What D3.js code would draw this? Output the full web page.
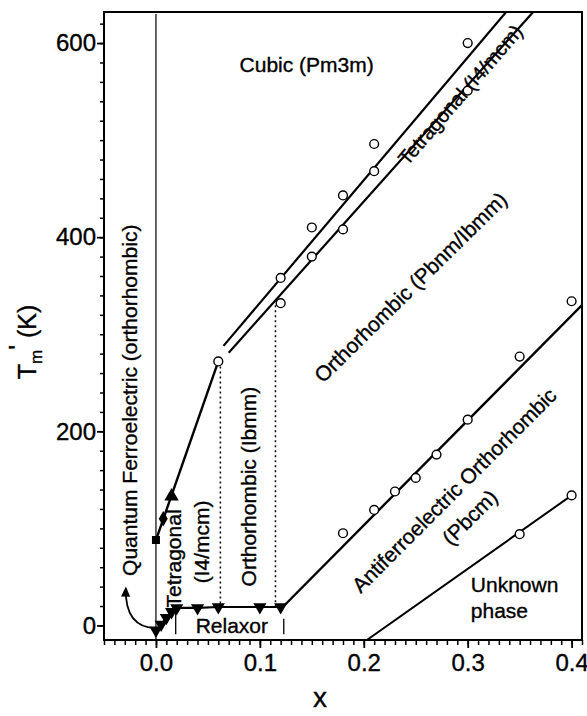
<!DOCTYPE html>
<html>
<head>
<meta charset="utf-8">
<script src="https://cdn.jsdelivr.net/npm/d3@7"></script>
<style>
  body { margin: 0; background: #fff; }
  svg { display: block; }
  text { font-family: "Liberation Sans", Arial, Helvetica, sans-serif; fill: #000; stroke: #000; stroke-width: 0.35px; }
</style>
</head>
<body>
<svg id="chart" width="587" height="716"></svg>
<script>
// ---- measured transition temperatures T'm (K) versus composition x ----
// cubic -> tetragonal (I4/mcm) transition
const cubicX = [0.12, 0.15, 0.18, 0.21, 0.30];
const cubicT = [358, 410, 443, 496, 600];
// tetragonal -> orthorhombic (Pbnm/Ibmm) transition
const tetraX = [0.06, 0.12, 0.15, 0.18, 0.21, 0.30];
const tetraT = [272, 332, 380, 408, 468, 551];
// orthorhombic -> antiferroelectric (Pbcm) transition
const afeX = [0.18, 0.21, 0.23, 0.25, 0.27, 0.30, 0.35, 0.40];
const afeT = [95, 119, 138, 152, 176, 212, 277, 334];
// antiferroelectric -> unknown phase
const unkX = [0.35, 0.40];
const unkT = [94, 134];
// low-x structural transition (square, diamond, up-triangle)
const qfX = [0.0, 0.007, 0.015];
const qfT = [88, 110, 133];
// relaxor / dielectric maxima (down-triangles)
const relX = [0.0, 0.005, 0.01, 0.015, 0.02, 0.04, 0.06, 0.10, 0.12];
const relT = [-5, 1, 8, 14, 18, 18, 19, 19, 19];

// fitted phase boundaries, as end points
const cubicFitX = [0.065, 0.337], cubicFitT = [288, 632];
const tetraFitX = [0.070, 0.363], tetraFitT = [281, 632];
const qfFitX = [0.0, 0.06], qfFitT = [88, 272];
const afeFitX = [0.123, 0.41], afeFitT = [20, 330];
const unkFitX = [0.203, 0.40], unkFitT = [-15, 134];
// dotted phase limits inside the low-temperature region
const dotX = [0.062, 0.115];
const dotTop = [272, 330];
// short bars bounding the relaxor region
const barX = [0.019, 0.123];
const barTop = [14, 7];

// axes
const xTicks = [0.0, 0.1, 0.2, 0.3, 0.4];
const xTickLabels = ["0.0", "0.1", "0.2", "0.3", "0.4"];
const yTicks = [0, 200, 400, 600];
const yTickLabels = ["0", "200", "400", "600"];

const svg = d3.select("#chart");
const L = 104, R = 582, T = 12, B = 640;
const x = d3.scaleLinear().domain([-0.05, 0.41]).range([L, R]);
const y = d3.scaleLinear().domain([-15, 632]).range([B, T]);

const defs = svg.append("defs");
defs.append("clipPath").attr("id", "plotclip")
  .append("rect").attr("x", L).attr("y", T).attr("width", R - L).attr("height", B - T);
defs.append("marker")
  .attr("id", "arrowhead").attr("viewBox", "0 0 10 10").attr("refX", 8).attr("refY", 5)
  .attr("markerWidth", 6).attr("markerHeight", 7).attr("orient", "auto")
  .attr("markerUnits", "strokeWidth")
  .append("path").attr("d", "M0,0.5 L10,5 L0,9.5 Z").attr("fill", "#000");

const plot = svg.append("g").attr("clip-path", "url(#plotclip)");

// x = 0 reference line
plot.append("line")
  .attr("x1", x(0)).attr("x2", x(0)).attr("y1", T + 2).attr("y2", B)
  .attr("stroke", "#000").attr("stroke-width", 1.2);

// dotted boundaries
dotX.forEach((d, i) => {
  plot.append("line")
    .attr("x1", x(d)).attr("x2", x(d)).attr("y1", y(dotTop[i])).attr("y2", y(20))
    .attr("stroke", "#000").attr("stroke-width", 1.5).attr("stroke-dasharray", "2,3");
});

// relaxor bracket bars
barX.forEach((d, i) => {
  plot.append("line")
    .attr("x1", x(d)).attr("x2", x(d)).attr("y1", y(barTop[i])).attr("y2", y(-9))
    .attr("stroke", "#000").attr("stroke-width", 1.3);
});

const line = d3.line().x(d => x(d[0])).y(d => y(d[1]));
function drawFit(xs, ts, w) {
  plot.append("path").datum(xs.map((v, i) => [v, ts[i]]))
    .attr("d", line).attr("fill", "none").attr("stroke", "#000").attr("stroke-width", w);
}
drawFit(cubicFitX, cubicFitT, 2.2);
drawFit(tetraFitX, tetraFitT, 2.2);
drawFit(qfFitX, qfFitT, 2.4);
drawFit(afeFitX, afeFitT, 2.4);
drawFit(unkFitX, unkFitT, 2);
drawFit(relX.slice(4), relT.slice(4), 2.2);
drawFit(relX.slice(0, 5), relT.slice(0, 5), 2.2);

// curved arrow from the origin towards the quantum ferroelectric region
plot.append("path")
  .attr("d", `M${x(0)},${y(-3)} Q${x(-0.03)},${y(-2)} ${x(-0.029)},${y(38)}`)
  .attr("fill", "none").attr("stroke", "#000").attr("stroke-width", 1.7)
  .attr("marker-end", "url(#arrowhead)");

// open circles
function circles(xs, ts) {
  plot.selectAll(null).data(xs.map((v, i) => [v, ts[i]])).enter().append("circle")
    .attr("cx", d => x(d[0])).attr("cy", d => y(d[1])).attr("r", 4.4)
    .attr("fill", "#fff").attr("stroke", "#000").attr("stroke-width", 1.4);
}
circles(cubicX, cubicT);
circles(tetraX, tetraT);
circles(afeX, afeT);
circles(unkX, unkT);

// filled markers at low x
const qfShapes = [d3.symbolSquare, d3.symbolDiamond, d3.symbolTriangle];
const qfSizes = [64, 70, 90];
plot.selectAll(null).data(qfX.map((v, i) => [v, qfT[i], i])).enter().append("path")
  .attr("transform", d => `translate(${x(d[0])},${y(d[1])})`)
  .attr("d", d => d3.symbol().type(qfShapes[d[2]]).size(qfSizes[d[2]])())
  .attr("fill", "#000");
plot.selectAll(null).data(relX.map((v, i) => [v, relT[i]])).enter().append("path")
  .attr("transform", d => `translate(${x(d[0])},${y(d[1])}) rotate(180)`)
  .attr("d", d3.symbol().type(d3.symbolTriangle).size(75)())
  .attr("fill", "#000");

// frame and axes
svg.append("rect").attr("x", L).attr("y", T).attr("width", R - L).attr("height", B - T)
  .attr("fill", "none").attr("stroke", "#000").attr("stroke-width", 2);

const xAxis = svg.append("g").attr("transform", `translate(0,${B})`);
xAxis.call(d3.axisBottom(x).tickValues(d3.range(-5, 42).map(i => i / 100)).tickSize(5).tickFormat(""))
  .call(g => g.select(".domain").remove())
  .call(g => g.selectAll("line").attr("stroke-width", 1.5));
const xMajor = svg.append("g").attr("transform", `translate(0,${B})`);
xMajor.call(d3.axisBottom(x).tickValues(xTicks).tickSize(8).tickPadding(6)
    .tickFormat((d, i) => xTickLabels[i]))
  .call(g => g.select(".domain").remove())
  .call(g => g.selectAll("line").attr("stroke-width", 1.8))
  .call(g => g.selectAll("text").attr("font-size", 24).attr("font-family", null));

const yAxis = svg.append("g").attr("transform", `translate(${L},0)`);
yAxis.call(d3.axisLeft(y).tickValues(d3.range(0, 640, 20)).tickSize(4).tickFormat(""))
  .call(g => g.select(".domain").remove())
  .call(g => g.selectAll("line").attr("stroke-width", 1.5));
const yMajor = svg.append("g").attr("transform", `translate(${L},0)`);
yMajor.call(d3.axisLeft(y).tickValues(yTicks).tickSize(7).tickPadding(1)
    .tickFormat((d, i) => yTickLabels[i]))
  .call(g => g.select(".domain").remove())
  .call(g => g.selectAll("line").attr("stroke-width", 1.8))
  .call(g => g.selectAll("text").attr("font-size", 24).attr("font-family", null));

// axis titles
svg.append("text").attr("x", 320).attr("y", 707).attr("text-anchor", "middle")
  .attr("font-size", 28).text("x");
const yt = svg.append("text").attr("transform", "translate(36,342) rotate(-90)")
  .attr("text-anchor", "middle").attr("font-size", 25);
yt.append("tspan").text("T");
yt.append("tspan").attr("font-size", 17).attr("dy", 6).text("m");
yt.append("tspan").attr("dy", -15).text("'");
yt.append("tspan").attr("dy", 9).text(" (K)");

// phase labels
function label(txt, px, py, angle, anchor, size) {
  svg.append("text")
    .attr("transform", `translate(${px},${py}) rotate(${angle})`)
    .attr("text-anchor", anchor || "middle").attr("font-size", size || 21).text(txt);
}
label("Cubic (Pm3m)", x(0.145), y(570), 0);
label("Quantum Ferroelectric (orthorhombic)", x(-0.018), y(232), -90);
label("Tetragonal", x(0.0245), y(69), -90);
label("(I4/mcm)", x(0.051), y(86), -90);
label("Orthorhombic (Ibmm)", x(0.0965), y(143), -90);
label("Relaxor", x(0.073), y(-8), 0);
label("Tetragonal (I4/mcm)", x(0.298), y(542), -49, "middle", 20);
label("Orthorhombic (Pbnm/Ibmm)", x(0.250), y(343), -44.6);
label("Antiferroelectric Orthorhombic", x(0.292), y(134), -45);
label("(Pbcm)", x(0.307), y(106), -45);
label("Unknown", x(0.303), y(34), 0, "start");
label("phase", x(0.303), y(8), 0, "start");
</script>
</body>
</html>
